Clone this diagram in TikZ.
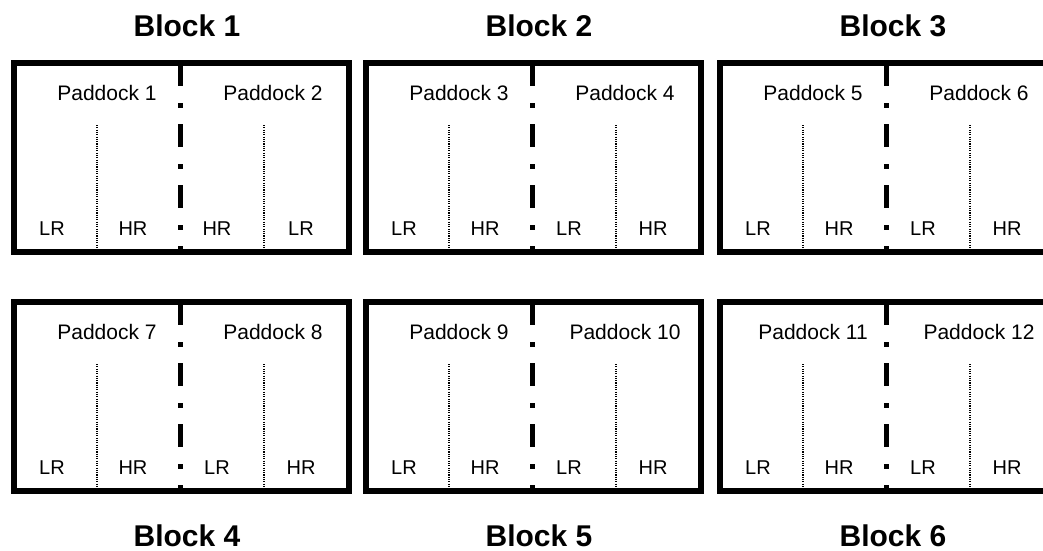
\documentclass[tikz,border=0pt]{standalone}
\usepackage{fontspec}
\setmainfont{Liberation Sans}

\begin{document}
\begin{tikzpicture}[x=1pt,y=-1pt,
  border/.style={line width=5.5pt},
  fence/.style={line width=5pt, dash pattern=on 23pt off 17pt on 5pt off 16pt},
  strip/.style={line width=1.1pt, dash pattern=on 1.1pt off 1.2pt},
  blocktitle/.style={inner sep=0pt, font=\fontsize{30}{36}\selectfont\bfseries},
  paddock/.style={font=\fontsize{21}{25}\selectfont},
  treat/.style={font=\fontsize{20}{24}\selectfont}]
  \useasboundingbox (0,0) rectangle (1043,550);
  \clip (0,0) rectangle (1043,550);

  % left / top / block / first paddock / title y / treatments of the second paddock
  \foreach \x/\y/\b/\p/\ty/\l/\r in {14/63/1/1/26/HR/LR, 366/63/2/3/26/LR/HR,
      720/63/3/5/26/LR/HR, 14/302/4/7/536/LR/HR, 366/302/5/9/536/LR/HR,
      720/302/6/11/536/LR/HR} {
    \pgfmathtruncatemacro{\q}{\p+1}
    \draw[border] (\x,\y) rectangle ++(335,189);
    \draw[fence] (\x+166,\y) -- (\x+166,\y+189); % paddock fence
    \draw[strip] (\x+83,\y+62) -- (\x+83,\y+189);
    \draw[strip] (\x+250,\y+62) -- (\x+250,\y+189);
    \node[blocktitle] (block\b) at (\x+173,\ty) {Block \b};
    \node[paddock] (pad\p) at (\x+93,\y+30) {Paddock \p};
    \node[paddock] (pad\q) at (\x+259,\y+30) {Paddock \q};
    \node[treat] (lr\p) at (\x+38,\y+166) {LR};
    \node[treat] (hr\p) at (\x+119,\y+166) {HR};
    \node[treat] (left\q) at (\x+203,\y+166) {\l};
    \node[treat] (right\q) at (\x+287,\y+166) {\r};
  }
\end{tikzpicture}
\end{document}
